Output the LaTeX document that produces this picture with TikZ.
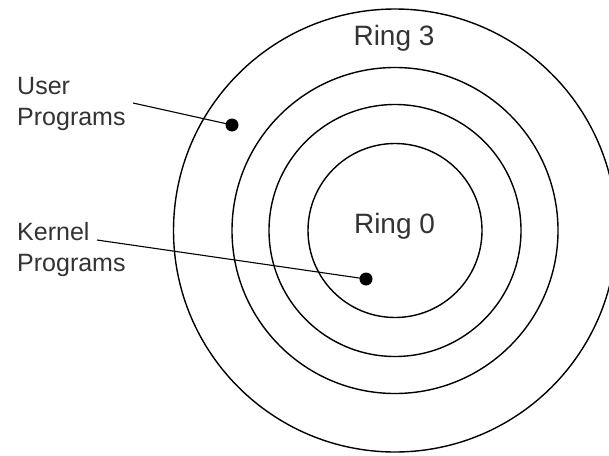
\documentclass[tikz,border=0pt]{standalone}
\usepackage{fontspec}
\setmainfont{Liberation Sans}
\begin{document}
\begin{tikzpicture}[x=1pt,y=-1pt,
  ring/.style={draw=black, line width=1.4pt},
  leader/.style={draw=black, line width=1.1pt},
  dotmark/.style={circle, fill=black, inner sep=0pt, minimum size=13pt},
  lbl/.style={inner sep=0pt, text=black!80, font=\fontsize{25}{31}\selectfont, align=left},
  ringlbl/.style={inner sep=0pt, text=black!80, font=\fontsize{28}{32}\selectfont}]
\useasboundingbox (0,0) rectangle (609,455);
\clip (0,0) rectangle (609,455);
\fill[white] (0,0) rectangle (609,455);
\coordinate (c) at (395,230.5);
\draw[ring] (c) circle[radius=87];
\draw[ring] (c) circle[radius=126];
\draw[ring] (c) circle[radius=163];
\draw[ring] (c) circle[radius=221.5];
\node[ringlbl, anchor=base] (r3) at (394,45) {Ring 3};
\node[ringlbl, anchor=base] (r0) at (394.5,233) {Ring 0};
\node[lbl, anchor=north west] (user) at (17,77) {User\\Programs};
\node[lbl, anchor=north west] (kern) at (17,222) {Kernel\\Programs};
\node[dotmark] (udot) at (232,125) {};
\node[dotmark] (kdot) at (366,279) {};
\coordinate (ustart) at (133,103);
\coordinate (kstart) at (97,240);
\draw[leader] (ustart) -- (udot.center);
\draw[leader] (kstart) -- (kdot.center);
\end{tikzpicture}
\end{document}
